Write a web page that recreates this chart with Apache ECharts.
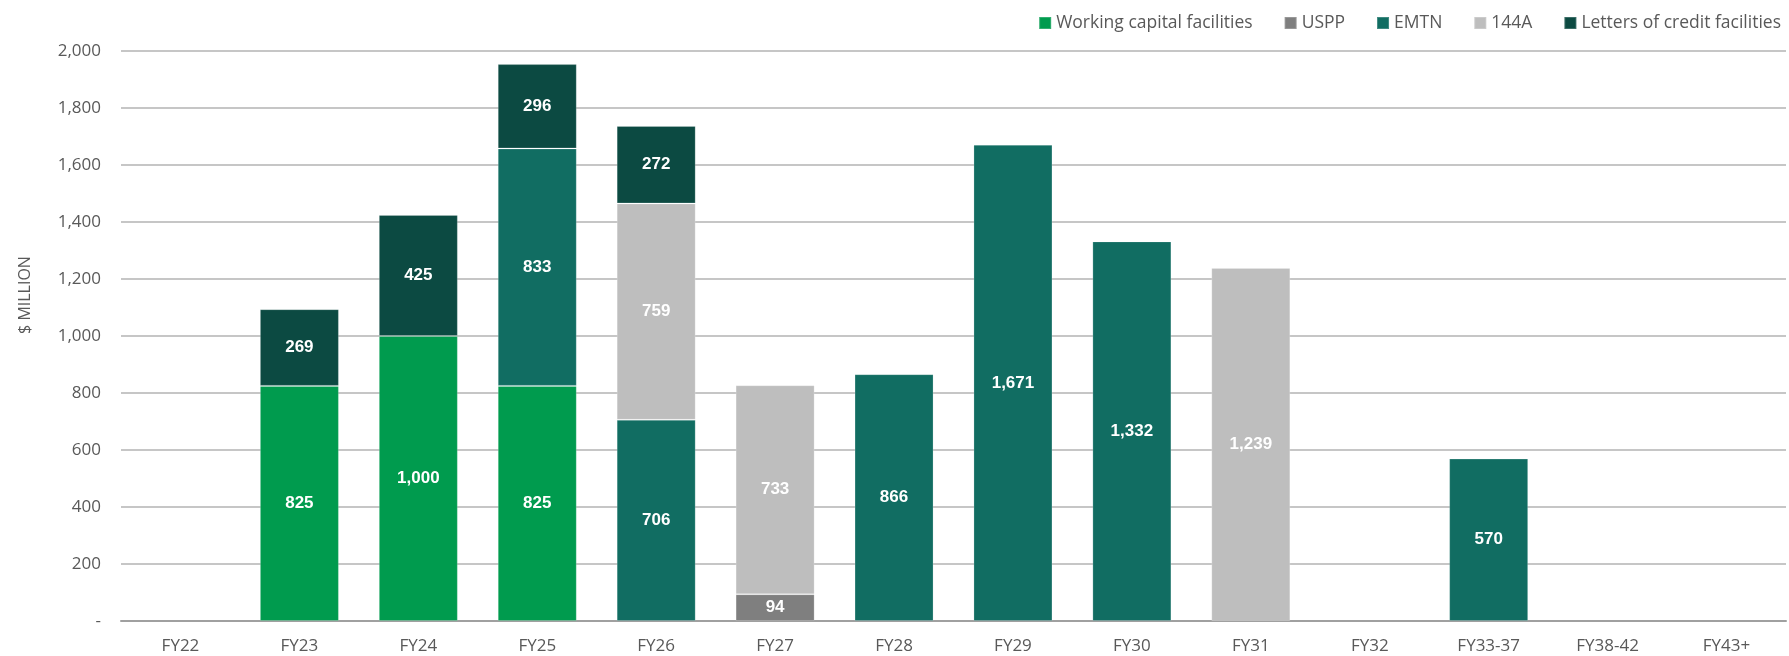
<!DOCTYPE html>
<html>
<head>
<meta charset="utf-8">
<title>Debt maturity profile</title>
<script src="https://cdn.jsdelivr.net/npm/echarts@6/dist/echarts.min.js"></script>
<style>
  html, body { margin: 0; padding: 0; background: #ffffff; }
  #chart { width: 1789px; height: 656px; }
</style>
</head>
<body>
<div id="chart"></div>
<script>
// Fiscal-year buckets along the x axis
const categories = ['FY22', 'FY23', 'FY24', 'FY25', 'FY26', 'FY27', 'FY28', 'FY29', 'FY30', 'FY31', 'FY32', 'FY33-37', 'FY38-42', 'FY43+'];

// Maturities by facility type, $ million (null = nothing maturing)
const workingCapital = [null, 825, 1000, 825, null, null, null, null, null, null, null, null, null, null];
const uspp           = [null, null, null, null, null, 94, null, null, null, null, null, null, null, null];
const emtn           = [null, null, null, 833, 706, null, 866, 1671, 1332, null, null, 570, null, null];
const rule144A       = [null, null, null, null, 759, 733, null, null, null, 1239, null, null, null, null];
const lettersOfCredit = [null, 269, 425, 296, 272, null, null, null, null, null, null, null, null, null];

// Value axis ticks
const yTicks = [0, 200, 400, 600, 800, 1000, 1200, 1400, 1600, 1800, 2000];

const seriesNames = ['Working capital facilities', 'USPP', 'EMTN', '144A', 'Letters of credit facilities'];
const seriesColors = ['#009b4e', '#7f7f7f', '#116d62', '#bebebe', '#0c4a42'];
const seriesData = [workingCapital, uspp, emtn, rule144A, lettersOfCredit];

const textColor = '#595959';
const axisFont = '"Open Sans", "Noto Sans", sans-serif';

function fmt(v) {
  return Number(v).toLocaleString('en-US');
}

const chart = echarts.init(document.getElementById('chart'), null, { renderer: 'canvas' });

chart.setOption({
  animation: false,
  backgroundColor: '#ffffff',
  grid: { left: 121, right: 3, top: 51, bottom: 35, containLabel: false },
  legend: {
    data: seriesNames,
    right: 3,
    top: 9,
    icon: 'rect',
    itemWidth: 12,
    itemHeight: 12,
    itemGap: 31,
    textStyle: { color: textColor, fontFamily: axisFont, fontSize: 17.5 }
  },
  graphic: [{
    type: 'text',
    x: 25,
    y: 295,
    rotation: Math.PI / 2,
    style: {
      text: '$ MILLION',
      fill: textColor,
      font: '16px "Open Sans", sans-serif',
      textAlign: 'center',
      textVerticalAlign: 'middle'
    }
  }],
  xAxis: {
    type: 'category',
    data: categories,
    axisLine: { show: true, lineStyle: { color: '#a0a0a0', width: 2 } },
    axisTick: { show: false },
    axisLabel: { color: textColor, fontFamily: axisFont, fontSize: 17, margin: 17 }
  },
  yAxis: {
    type: 'value',
    min: yTicks[0],
    max: yTicks[yTicks.length - 1],
    interval: yTicks[1] - yTicks[0],
    axisLine: { show: false },
    axisTick: { show: false },
    splitLine: { show: true, lineStyle: { color: '#b3b3b3', width: 1.5 } },
    axisLabel: {
      color: textColor,
      fontFamily: axisFont,
      fontSize: 17,
      margin: 20,
      formatter: function (v) { return v === 0 ? '-' : fmt(v); }
    }
  },
  series: seriesNames.map(function (name, i) {
    return {
      name: name,
      type: 'bar',
      stack: 'total',
      barWidth: 79,
      data: seriesData[i],
      itemStyle: {
        color: seriesColors[i],
        borderColor: 'rgba(255,255,255,0.2)',
        borderWidth: 1
      },
      label: {
        show: true,
        position: 'inside',
        color: '#ffffff',
        fontFamily: '"Liberation Sans", Arial, sans-serif',
        fontWeight: 'bold',
        fontSize: 17,
        formatter: function (p) { return fmt(p.value); }
      }
    };
  })
});
</script>
</body>
</html>
